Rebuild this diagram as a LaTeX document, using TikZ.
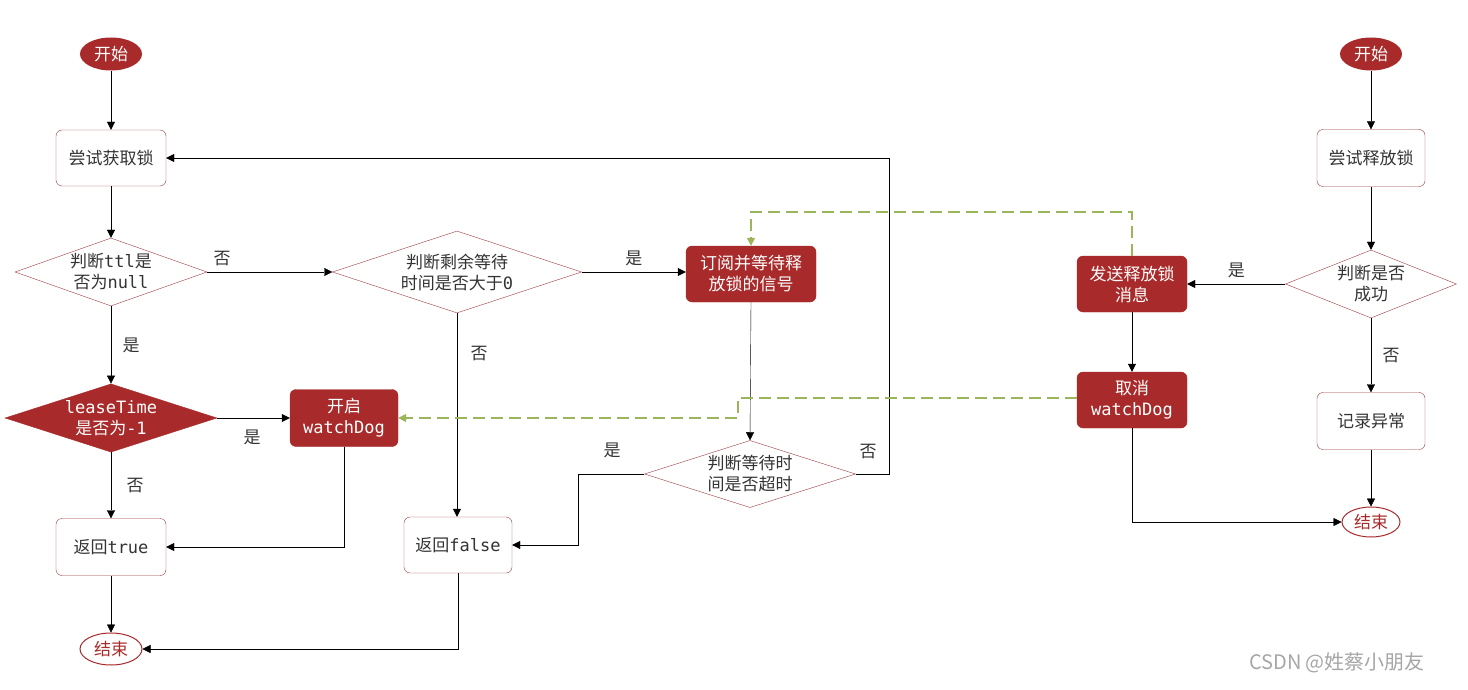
\documentclass[tikz,border=0pt]{standalone}
\usepackage{fontspec}
\setmainfont{Noto Sans CJK SC}
\newfontfamily\cjk{Noto Sans CJK SC}
\usetikzlibrary{shapes.geometric,arrows.meta}
\definecolor{dred}{HTML}{A82A2A}
\definecolor{bord}{HTML}{9C3A40}
\definecolor{dgreen}{HTML}{9AB55A}
\definecolor{txt}{HTML}{333333}
\newcommand{\mo}[1]{{\fontspec{DejaVu Sans Mono}#1}}
\begin{document}
\begin{tikzpicture}[x=1pt,y=-1pt,font=\fontsize{17}{21}\selectfont,
 box/.style={draw=bord,rounded corners=6pt,minimum width=110pt,minimum height=56pt,text=txt,align=center,fill=white},
 fbox/.style={box,fill=dred,draw=dred,text=white},
 dia/.style={draw=bord,diamond,aspect=2.8,inner sep=0pt,text=txt,align=center},
 oval/.style={ellipse,minimum width=62pt,minimum height=33pt,inner sep=0pt},
 arr/.style={-{Triangle[length=8pt,width=8pt]},black},
 garr/.style={-{Triangle[length=8pt,width=8pt]},dgreen,dash pattern=on 12pt off 6pt,line width=1.5pt},
 lab/.style={text=txt}]
\useasboundingbox (0,0) rectangle (1468,690);
\node[oval,fill=dred,text=white] (s1) at (111,54) {开始};
\node[box] (t1) at (111,158) {尝试获取锁};
\node[dia,minimum width=192pt,minimum height=68pt] (d1) at (111,272) {判断\mo{ttl}是\\否为\mo{null}};
\node[dia,minimum width=249pt,minimum height=82pt] (d2) at (457,272) {判断剩余等待\\时间是否大于\mo{0}};
\node[fbox,minimum width=130pt] (sub) at (751,274) {订阅并等待释\\放锁的信号};
\node[dia,fill=dred,draw=dred,text=white,minimum width=212pt,minimum height=67pt] (le) at (111,418) {\mo{leaseTime}\\是否为\mo{-1}};
\node[fbox,minimum width=108pt,minimum height=57pt] (wd) at (344,418) {开启\\\mo{watchDog}};
\node[box,minimum height=57pt] (rt) at (111,547) {返回\mo{true}};
\node[oval,draw=dred,line width=1pt,text=dred,minimum height=32pt] (e1) at (111,649) {结束};
\node[box,minimum width=108pt] (rf) at (458,545) {返回\mo{false}};
\node[dia,minimum width=211pt,minimum height=66pt] (d3) at (750,474) {判断等待时\\间是否超时};
\node[oval,fill=dred,text=white] (s2) at (1371,54) {开始};
\node[box,minimum width=108pt,minimum height=57pt] (t2) at (1371,158) {尝试释放锁};
\node[dia,minimum width=169pt,minimum height=68pt] (d4) at (1371,284) {判断是否\\成功};
\node[fbox] (se) at (1132,284) {发送释放锁\\消息};
\node[fbox] (ca) at (1132,400) {取消\\\mo{watchDog}};
\node[box,minimum width=108pt,minimum height=57pt] (lg) at (1371,421) {记录异常};
\node[oval,draw=dred,line width=1pt,text=dred,minimum width=58pt,minimum height=30pt] (e2) at (1371,522) {结束};
% edges
\draw[arr] (s1)--(t1);
\draw[arr] (t1)--(d1);
\draw[arr] (d1.east)--(d2.west) node[lab,pos=0.12,above=3pt]{否};
\draw[arr] (d1.south)--(le.north) node[lab,midway,right=8pt]{是};
\draw[arr] (le.east)--(wd.west) node[lab,pos=0.48,below=8pt]{是};
\draw[arr] (le.south)--(rt.north) node[lab,midway,right=12pt]{否};
\draw[arr] (wd.south)|-(rt.east);
\draw[arr] (rt)--(e1);
\draw[arr] (d2.east)--(d2.east-|sub.west) node[lab,midway,above=3pt]{是};
\draw[arr] (d2.south)--(d2.south|-rf.north) node[lab,pos=0.2,right=10pt]{否};
\draw[arr] (sub.south)--(d3.north);
\coordinate (c1) at (578,474);
\draw[arr] (d3.west)--(c1)|-(rf.east);
\node[lab] at (612,450) {是};
\coordinate (c2) at (889,474);
\draw[arr] (d3.east)--(c2)|-(t1.east);
\node[lab] at (868,452) {否};
\draw[arr] (rf.south)|-(e1.east);
\draw[arr] (s2)--(t2);
\draw[arr] (t2)--(d4);
\draw[arr] (d4.west)--(se.east) node[lab,midway,above=3pt]{是};
\draw[arr] (d4.south)--(lg.north) node[lab,midway,right=8pt]{否};
\draw[arr] (lg)--(e2);
\draw[arr] (se)--(ca);
\draw[arr] (ca.south)|-(e2.west);
\coordinate (g1) at (751,212);
\draw[garr] (se.north)|-(g1)--(sub.north);
\coordinate (g2) at (738,398);
\draw[garr] (ca.west|-g2)--(g2)|-(wd.east);
\node[text=gray!70,font=\fontsize{20}{22}\selectfont] at (1337,663) {CSDN @姓蔡小朋友};
\end{tikzpicture}
\end{document}
